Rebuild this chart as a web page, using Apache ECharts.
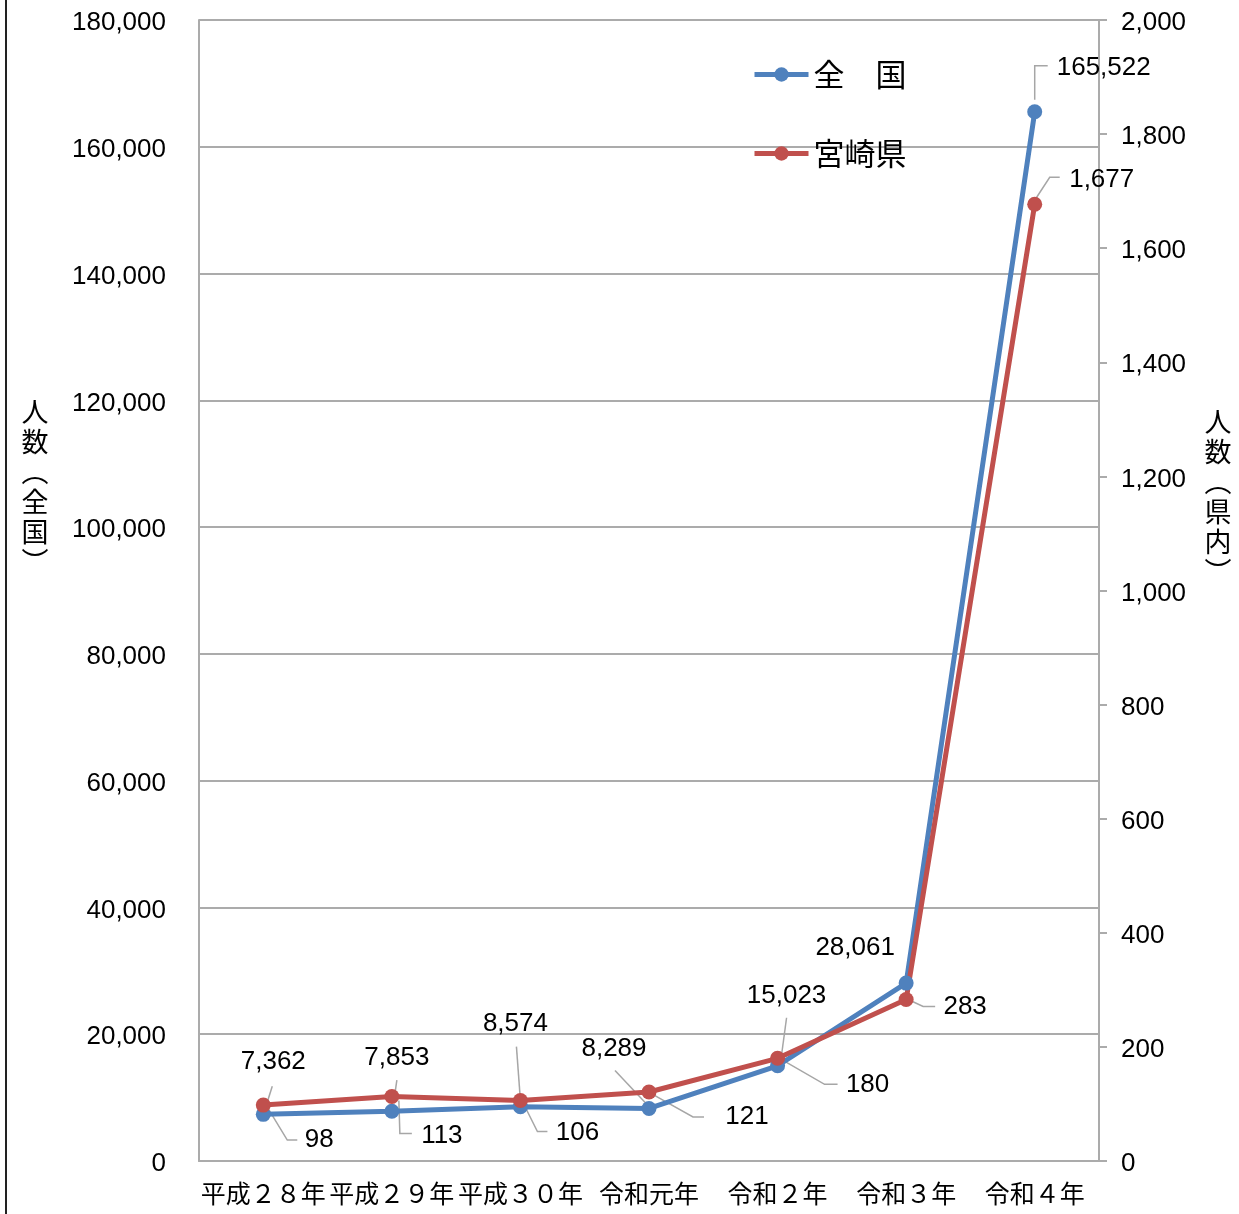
<!DOCTYPE html>
<html>
<head>
<meta charset="utf-8">
<script src="https://cdn.jsdelivr.net/npm/echarts@6/dist/echarts.min.js"></script>
<style>
  html, body { margin: 0; padding: 0; background: #fff; }
  #chart { width: 1239px; height: 1214px; }
</style>
</head>
<body>
<div id="chart"></div>
<script>
// Fiscal years on the x axis
const categories = ['平成２８年', '平成２９年', '平成３０年', '令和元年', '令和２年', '令和３年', '令和４年'];
// People, nationwide (left axis)
const nationalValues = [7362, 7853, 8574, 8289, 15023, 28061, 165522];
// People, Miyazaki Prefecture (right axis)
const prefectureValues = [98, 113, 106, 121, 180, 283, 1677];
// Series names shown in the legend
const seriesNames = ['全　国', '宮崎県'];
// Axis ranges
const leftAxisRange = { min: 0, max: 180000, interval: 20000 };
const rightAxisRange = { min: 0, max: 2000, interval: 200 };

// Where each value label sits relative to its point, with the leader-line bends
const nationalLabelPlacement = [
  { dx: 10, dy: -53, line: [[2, -6], [9, -28]] },
  { dx: 5, dy: -53, line: [[2, -10], [5, -31]] },
  { dx: -5, dy: -83, line: [[0, -6], [-4, -60]] },
  { dx: -35, dy: -60, line: [[-2, -4], [-34, -38]] },
  { dx: 9, dy: -70, line: [[4, -11], [9, -48]] },
  { dx: -51, dy: -35, line: null },
  { dx: 69, dy: -44, line: [[0, -12], [0, -46], [13, -46]] }
];
const prefectureLabelPlacement = [
  { dx: 56, dy: 35, line: [[4, 2], [24, 35], [34, 35]] },
  { dx: 50, dy: 39, line: [[7, 4], [8, 37], [20, 37]] },
  { dx: 57, dy: 32, line: [[3, 3], [17, 31], [27, 31]] },
  { dx: 98, dy: 25, line: [[1, 1], [44, 25], [55, 25]] },
  { dx: 90, dy: 27, line: [[2, 0], [47, 26], [60, 26]] },
  { dx: 59, dy: 7, line: [[2, 0], [17, 7], [29, 7]] },
  { dx: 67, dy: -24, line: [[0, -4], [15, -27], [25, -27]] }
];

const FONT = "'Liberation Sans', 'Noto Sans CJK JP', sans-serif";
const CJK_FONT = "'Noto Sans CJK JP', sans-serif";
const GRID_GRAY = '#ababab';
const LEADER_GRAY = '#a6a6a6';
const BLUE = '#4f81bd';
const RED = '#c0504d';

function fmt(v) { return Number(v).toLocaleString('en-US'); }
// Tick labels sit a touch below their gridline
function tickLabel(v) { return '{t|' + fmt(v) + '}'; }
const tickRich = { t: { fontSize: 26, fontFamily: FONT, color: '#000', padding: [6, 0, 0, 0] } };

function placeLabels(placements) {
  return function (params) {
    const p = placements[params.dataIndex];
    const cx = params.rect.x + params.rect.width / 2;
    const cy = params.rect.y + params.rect.height / 2;
    return { x: cx + p.dx, y: cy + p.dy, align: 'center', verticalAlign: 'middle' };
  };
}

function lineSeries(name, values, placements, color, axisIndex) {
  return {
    name: name,
    type: 'line',
    yAxisIndex: axisIndex,
    data: values,
    symbol: 'circle',
    symbolSize: 15,
    lineStyle: { width: 5, color: color },
    itemStyle: { color: color },
    label: {
      show: true,
      formatter: function (p) { return fmt(p.value); },
      fontSize: 26,
      fontFamily: FONT,
      color: '#000'
    },
    labelLine: { show: false },
    labelLayout: placeLabels(placements),
    emphasis: { disabled: true },
    animation: false
  };
}

const staticGraphics = [
  {
    id: 'frame-left',
    type: 'line',
    shape: { x1: 6, y1: 0, x2: 6, y2: 1214 },
    style: { stroke: '#222', lineWidth: 2 }
  },
  {
    id: 'name-left',
    type: 'text',
    x: 35, y: 487,
    style: {
      text: '人\n数\n︵\n全\n国\n︶',
      font: '27px ' + CJK_FONT,
      lineHeight: 30,
      fill: '#000',
      textAlign: 'center',
      textVerticalAlign: 'middle'
    }
  },
  {
    id: 'name-right',
    type: 'text',
    x: 1218, y: 497,
    style: {
      text: '人\n数\n︵\n県\n内\n︶',
      font: '27px ' + CJK_FONT,
      lineHeight: 30,
      fill: '#000',
      textAlign: 'center',
      textVerticalAlign: 'middle'
    }
  }
];

const chart = echarts.init(document.getElementById('chart'), null, { renderer: 'canvas' });

chart.setOption({
  backgroundColor: '#fff',
  animation: false,
  grid: { left: 199, right: 140, top: 20, bottom: 53, containLabel: false },
  legend: {
    data: seriesNames,
    orient: 'vertical',
    left: 752,
    top: 59,
    padding: 0,
    itemWidth: 54,
    itemHeight: 18,
    itemGap: 48,
    lineStyle: { width: 5 },
    textStyle: { fontSize: 31, fontFamily: CJK_FONT, color: '#000' }
  },
  xAxis: {
    type: 'category',
    data: categories,
    boundaryGap: true,
    axisLine: { lineStyle: { color: GRID_GRAY, width: 2 } },
    axisTick: { show: false },
    axisLabel: { interval: 0, fontSize: 25, fontFamily: CJK_FONT, color: '#000', margin: 20 }
  },
  yAxis: [
    {
      type: 'value',
      position: 'left',
      min: leftAxisRange.min,
      max: leftAxisRange.max,
      interval: leftAxisRange.interval,
      axisLine: { show: true, lineStyle: { color: GRID_GRAY, width: 2 } },
      axisTick: { show: false },
      splitLine: { show: true, lineStyle: { color: GRID_GRAY, width: 2 } },
      axisLabel: { margin: 33, formatter: tickLabel, rich: tickRich }
    },
    {
      type: 'value',
      position: 'right',
      min: rightAxisRange.min,
      max: rightAxisRange.max,
      interval: rightAxisRange.interval,
      axisLine: { show: true, lineStyle: { color: GRID_GRAY, width: 2 } },
      axisTick: { show: true, inside: false, length: 8, lineStyle: { color: GRID_GRAY, width: 2 } },
      splitLine: { show: false },
      axisLabel: { margin: 22, formatter: tickLabel, rich: tickRich }
    }
  ],
  graphic: staticGraphics,
  series: [
    lineSeries(seriesNames[0], nationalValues, nationalLabelPlacement, BLUE, 0),
    lineSeries(seriesNames[1], prefectureValues, prefectureLabelPlacement, RED, 1)
  ]
});

// Leader lines from each point to its value label, anchored on the axis scales
function leaderLines() {
  const out = [];
  [[0, nationalValues, nationalLabelPlacement], [1, prefectureValues, prefectureLabelPlacement]]
    .forEach(function (entry) {
      const s = entry[0], values = entry[1], placements = entry[2];
      values.forEach(function (v, i) {
        const bends = placements[i].line;
        if (!bends) return;
        const c = chart.convertToPixel({ seriesIndex: s }, [i, v]);
        out.push({
          id: 'leader-' + s + '-' + i,
          type: 'polyline',
          z: 3,
          shape: { points: bends.map(function (q) { return [c[0] + q[0], c[1] + q[1]]; }) },
          style: { stroke: LEADER_GRAY, lineWidth: 1.5, fill: null }
        });
      });
    });
  return out;
}

chart.setOption({ graphic: staticGraphics.concat(leaderLines()) });
</script>
</body>
</html>
